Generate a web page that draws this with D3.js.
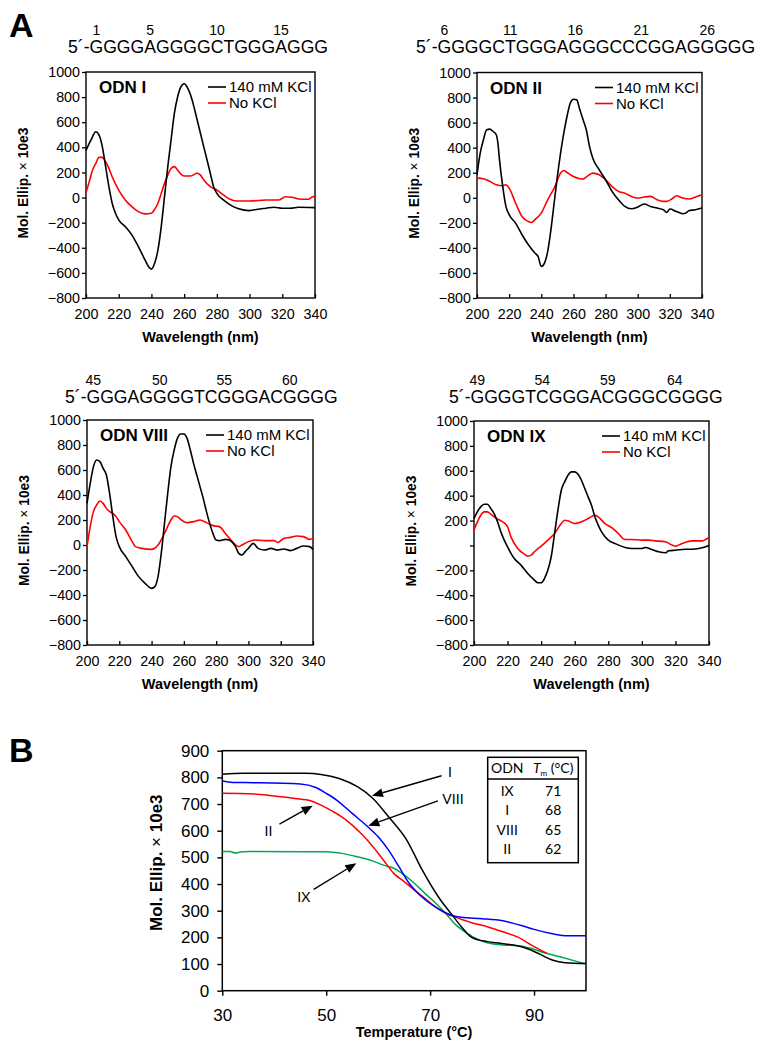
<!DOCTYPE html>
<html><head><meta charset="utf-8">
<script src="https://cdn.jsdelivr.net/npm/d3@7"></script>
<style>
body{margin:0;background:#fff}
svg text{font-family:Arial,"Liberation Sans",sans-serif;fill:#000}
</style></head>
<body><svg id="c" width="762" height="1050"></svg>
<script>
// ---------------- DATA ----------------
const cdXTicks = [200,220,240,260,280,300,320,340];
const cdYTicks = [-800,-600,-400,-200,0,200,400,600,800,1000];
const legendLabels = ["140 mM KCl","No KCl"];
const odnNames = ["ODN I","ODN II","ODN VIII","ODN IX"];
const seqs = ["GGGGAGGGGCTGGGAGGG","GGGGCTGGGAGGGCCCGGAGGGGG","GGGAGGGGTCGGGACGGGG","GGGGTCGGGACGGGCGGGG"];
const seqStarts = [1,6,45,49];
const seqNums1 = [1,5,10,15];
const seqNums2 = [6,11,16,21,26];
const seqNums3 = [45,50,55,60];
const seqNums4 = [49,54,59,64];

// ODN I
const wlK1 = [200,203,206,208,210,212,214,216,218,220,224,228,232,236,239,240,242,244,246,248,250,252,254,256,258,260,262,264,266,268,270,272,274,276,278,280,284,290,296,300,305,310,315,320,325,330,340];
const kcl1 = [375,457,524,497,404,246,87,-45,-125,-178,-231,-297,-390,-495,-562,-570,-522,-416,-231,7,246,457,669,801,881,907,876,815,722,616,510,404,299,193,87,34,-19,-72,-98,-104,-93,-85,-77,-85,-85,-77,-80];
const wlN1 = [200,202,204,206,208,210,212,214,216,220,224,228,232,236,240,242,244,246,248,250,252,254,256,258,260,264,268,270,272,276,280,284,288,292,300,310,318,320,322,326,330,336,338,340];
const nokcl1 = [39,127,219,272,320,320,285,232,166,60,-19,-72,-112,-130,-125,-93,-45,34,113,179,232,246,219,187,172,172,193,179,140,87,60,21,-14,-27,-27,-19,-19,-6,7,2,-11,-14,2,13];
// ODN II
const wlK2 = [200,202,204,206,208,210,212,213,214,216,218,220,224,228,232,236,238,240,242,244,246,248,250,252,254,256,258,260,262,264,266,268,270,272,276,280,284,288,292,296,300,304,308,312,316,318,320,324,328,330,332,336,340];
const kcl2 = [184,357,463,543,548,529,503,436,303,91,-69,-135,-202,-295,-375,-441,-468,-548,-521,-428,-255,-42,170,357,516,649,755,787,782,702,622,543,410,317,224,144,51,-16,-69,-88,-74,-50,-69,-82,-96,-117,-90,-109,-127,-122,-101,-96,-82];
const wlN2 = [200,204,208,212,216,218,220,224,228,232,234,236,240,244,248,252,254,256,260,264,266,268,272,276,280,284,288,292,296,300,304,308,312,316,318,322,324,328,332,336,340];
const nokcl2 = [157,152,131,104,96,104,77,-42,-149,-189,-197,-175,-122,-16,77,197,218,202,170,152,149,165,197,184,144,91,51,37,11,-2,6,11,-16,-29,-29,-2,16,-2,-10,6,24];
// ODN VIII
const wlK3 = [200,202,204,206,208,210,212,214,216,218,220,224,228,232,236,240,242,244,246,248,250,252,254,256,258,260,262,264,266,268,270,272,274,276,278,280,282,286,288,292,294,296,298,300,303,306,310,314,318,322,326,330,334,338,340];
const kcl3 = [333,493,627,680,667,613,560,413,227,67,-13,-93,-173,-253,-307,-347,-333,-253,-67,173,413,627,760,853,888,888,853,760,653,560,467,373,267,173,93,40,35,45,40,-13,-67,-80,-53,-27,13,-27,-40,-27,-40,-32,-45,-27,-8,-13,-35];
const wlN3 = [200,202,204,206,208,210,212,214,216,218,220,224,228,230,234,240,244,248,252,254,256,258,262,266,270,274,278,282,286,290,294,296,300,304,310,316,318,322,326,330,334,338,340];
const nokcl3 = [-13,147,267,320,352,333,293,267,253,227,187,120,27,-13,-27,-35,0,93,200,232,227,205,179,187,200,179,155,147,88,27,-13,0,27,40,35,35,21,53,61,72,67,45,53];
// ODN IX
const wlK4 = [200,202,204,206,208,210,212,214,216,218,220,222,224,228,232,236,238,240,242,244,246,248,250,252,254,256,258,260,262,264,266,268,270,272,274,276,280,284,290,294,300,302,306,310,314,316,320,326,330,334,338,340];
const kcl4 = [216,270,310,331,331,297,256,190,109,43,-11,-64,-105,-158,-225,-278,-300,-300,-265,-198,-91,96,283,444,511,564,591,591,572,524,457,390,323,230,163,109,43,16,-16,-24,-24,-16,-32,-51,-59,-43,-38,-30,-30,-24,-11,2];
const wlN4 = [200,202,204,206,208,210,212,216,218,220,222,226,230,232,234,236,240,244,248,252,254,256,260,264,268,272,274,278,282,286,290,294,300,304,308,314,318,320,324,330,336,338,340];
const nokcl4 = [123,190,243,270,270,251,230,198,182,150,69,-24,-70,-86,-78,-51,-6,43,96,176,203,198,176,190,216,243,230,176,144,96,48,48,43,43,37,29,3,-6,16,37,37,48,64];

// Panel B melting curves
const mXTicks = [30,50,70,90];
const mYTicks = [0,100,200,300,400,500,600,700,800,900];
const tI = [30,34,40,46,49,52.5,56,59,62,65.5,68.5,72,74,76,78,81,83.5,86,88.5,91,93.5,96,100];
const vI = [812,815,815,815,811,796,765,721,652,565,452,340,290,240,200,184,178,171,159,138,115,105,102];
const tVIII = [30,32,36,45,48,50,52,55,58,60,62,64,66,68,70,72,74,76,80,84,88,90,94,96,100];
const vVIII = [786,781,780,775,762,740,715,665,615,577,527,465,402,359,327,302,284,275,270,262,242,230,212,206,206];
const tII = [30,36,40,44,47,49,51,53,55,57,59,61,63,65,67,69,71,73,75,78,81,84,87,90,92.5];
const vII = [740,738,730,721,712,696,675,652,621,584,540,490,440,409,377,346,315,290,275,255,240,221,200,165,140];
const tIX = [30,31.5,32.5,33.5,35,50,53,56,59,61,63,65,67,69,71,73,75,77,79,81,84,87,89,92,95,98,100];
const vIX = [522,522,516,520,522,521,515,502,486,471,459,434,402,365,330,290,246,217,194,180,171,169,161,142,127,111,100];
const tableOdn = ["IX","I","VIII","II"];
const tableTm = [71,68,65,62];
const annLabels = ["I","VIII","II","IX"];
const annLabelT = [73.8,74.4,38.9,45.7];
const annLabelV = [820,717,599,352];
const annFromT = [72.2,71.5,41.0,47.6];
const annFromV = [806,712,625,380];
const annToT = [58.8,58.1,47.4,55.8];
const annToV = [731,619,694,478];

// ---------------- LAYOUT ----------------
const svg = d3.select("#c");
const panels = [
  {x0:86,x1:315,y0:72,y1:298,seqX:68,seqY:53,numY:35,hideZero:false},
  {x0:477,x1:702,y0:72.5,y1:298,seqX:416,seqY:53,numY:35,hideZero:false},
  {x0:87,x1:313,y0:420,y1:645,seqX:65,seqY:403,numY:385,hideZero:false},
  {x0:474,x1:709,y0:421,y1:645,seqX:449,seqY:403,numY:385,hideZero:true}
];
const cdData = [
  {wk:wlK1,k:kcl1,wn:wlN1,n:nokcl1,nums:seqNums1},
  {wk:wlK2,k:kcl2,wn:wlN2,n:nokcl2,nums:seqNums2},
  {wk:wlK3,k:kcl3,wn:wlN3,n:nokcl3,nums:seqNums3},
  {wk:wlK4,k:kcl4,wn:wlN4,n:nokcl4,nums:seqNums4}
];
const fmt = v => v < 0 ? "\u2212" + Math.abs(v) : String(v);

panels.forEach((L,i)=>{
  const D = cdData[i];
  const g = svg.append("g");
  const x = d3.scaleLinear().domain([200,340]).range([L.x0,L.x1]);
  const y = d3.scaleLinear().domain([-800,1000]).range([L.y1,L.y0]);
  const ya = g.append("g").attr("transform",`translate(${L.x0},0)`)
    .call(d3.axisLeft(y).tickValues(cdYTicks).tickSizeInner(4).tickSizeOuter(0).tickPadding(2)
      .tickFormat(v => (L.hideZero && v===0) ? "" : fmt(v)));
  const xa = g.append("g").attr("transform",`translate(0,${L.y1})`)
    .call(d3.axisBottom(x).tickValues(cdXTicks).tickSizeInner(-4).tickSizeOuter(0).tickPadding(11).tickFormat(fmt));
  [ya,xa].forEach(a=>{
    a.select(".domain").remove();
    a.selectAll("text").attr("font-size","14.3px").attr("font-family","Arial, 'Liberation Sans', sans-serif").attr("fill","#000");
    a.selectAll("line").attr("stroke","#000").attr("stroke-width",1.3);
  });
  g.append("rect").attr("x",L.x0).attr("y",L.y0).attr("width",L.x1-L.x0).attr("height",L.y1-L.y0)
    .attr("fill","none").attr("stroke","#000").attr("stroke-width",1.4);
  const line = d3.line().curve(d3.curveMonotoneX);
  g.append("path").attr("d", line(D.wn.map((w,j)=>[x(w),y(D.n[j])])))
    .attr("fill","none").attr("stroke","#ff0000").attr("stroke-width",1.6);
  g.append("path").attr("d", line(D.wk.map((w,j)=>[x(w),y(D.k[j])])))
    .attr("fill","none").attr("stroke","#000").attr("stroke-width",1.6);
  [["#000",legendLabels[0],15],["#ff0000",legendLabels[1],31]].forEach(([c,t,dy])=>{
    g.append("line").attr("x1",L.x1-107).attr("x2",L.x1-89).attr("y1",L.y0+dy).attr("y2",L.y0+dy)
      .attr("stroke",c).attr("stroke-width",1.6);
    g.append("text").attr("x",L.x1-86).attr("y",L.y0+dy+5).attr("font-size","15px").text(t);
  });
  g.append("text").attr("x",L.x0+13).attr("y",L.y0+21).attr("font-size","17px").attr("font-weight","bold").text(odnNames[i]);
  g.append("text").attr("x",(L.x0+L.x1)/2).attr("y",L.y1+44).attr("text-anchor","middle")
    .attr("font-size","14.5px").attr("font-weight","bold").text("Wavelength (nm)");
  const yt = g.append("text").attr("transform",`translate(${L.x0-58},${(L.y0+L.y1)/2-2}) rotate(-90)`)
    .attr("text-anchor","middle").attr("font-size","13.8px").attr("font-weight","bold");
  yt.append("tspan").text("Mol. Ellip. ");
  yt.append("tspan").attr("font-weight","normal").text("\u00d7");
  yt.append("tspan").text(" 10e3");
  const st = g.append("text").attr("x",L.seqX).attr("y",L.seqY).attr("font-size","17.6px").text("5\u00b4-" + seqs[i]);
  const node = st.node();
  D.nums.forEach(n=>{
    const idx = 3 + (n - seqStarts[i]);
    const a = node.getStartPositionOfChar(idx).x, b = node.getEndPositionOfChar(idx).x;
    g.append("text").attr("x",(a+b)/2).attr("y",L.numY).attr("text-anchor","middle")
      .attr("font-size","14px").text(n);
  });
});

svg.append("text").attr("x",9).attr("y",37).attr("font-size","34px").attr("font-weight","bold").text("A");
svg.append("text").attr("x",9).attr("y",762).attr("font-size","34px").attr("font-weight","bold").text("B");

// ---------------- PANEL B ----------------
(function(){
  const B = {x0:222.3,x1:586,y0:750.7,y1:990.7};
  const g = svg.append("g");
  const x = d3.scaleLinear().domain([30,100]).range([B.x0,B.x1]);
  const y = d3.scaleLinear().domain([0,900]).range([B.y1,B.y0]);
  const ya = g.append("g").attr("transform",`translate(${B.x0},0)`)
    .call(d3.axisLeft(y).tickValues(mYTicks).tickSizeInner(5).tickSizeOuter(0).tickPadding(8));
  const xa = g.append("g").attr("transform",`translate(0,${B.y1})`)
    .call(d3.axisBottom(x).tickValues(mXTicks).tickSizeInner(5).tickSizeOuter(0).tickPadding(13));
  [ya,xa].forEach(a=>{
    a.select(".domain").remove();
    a.selectAll("text").attr("font-size","17px").attr("font-family","Arial, 'Liberation Sans', sans-serif").attr("fill","#000");
    a.selectAll("line").attr("stroke","#000").attr("stroke-width",1.4);
  });
  g.append("rect").attr("x",B.x0).attr("y",B.y0).attr("width",B.x1-B.x0).attr("height",B.y1-B.y0)
    .attr("fill","none").attr("stroke","#000").attr("stroke-width",1.5);
  const line = d3.line().curve(d3.curveMonotoneX);
  [[tIX,vIX,"#00a84f"],[tII,vII,"#ff0000"],[tVIII,vVIII,"#0000ff"],[tI,vI,"#000"]].forEach(([t,v,c])=>{
    g.append("path").attr("d",line(t.map((tt,j)=>[x(tt),y(v[j])])))
      .attr("fill","none").attr("stroke",c).attr("stroke-width",1.5);
  });
  g.append("text").attr("x",414).attr("y",1037).attr("text-anchor","middle")
    .attr("font-size","14.5px").attr("font-weight","bold").text("Temperature (\u00b0C)");
  const yt = g.append("text").attr("transform",`translate(162,${(B.y0+B.y1)/2-8}) rotate(-90)`)
    .attr("text-anchor","middle").attr("font-size","17px").attr("font-weight","bold");
  yt.append("tspan").text("Mol. Ellip. ");
  yt.append("tspan").attr("font-weight","normal").text("\u00d7");
  yt.append("tspan").text(" 10e3");
  annLabels.forEach((lab,i)=>{
    const fx = x(annFromT[i]), fy = y(annFromV[i]), tx = x(annToT[i]), ty = y(annToV[i]);
    const ang = Math.atan2(ty-fy, tx-fx);
    const hl = 11, hw = 4.5;
    const bx = tx - hl*Math.cos(ang), by = ty - hl*Math.sin(ang);
    g.append("line").attr("x1",fx).attr("y1",fy).attr("x2",bx).attr("y2",by)
      .attr("stroke","#000").attr("stroke-width",1.4);
    const px = -Math.sin(ang), py = Math.cos(ang);
    g.append("path").attr("d",`M${tx},${ty}L${bx+px*hw},${by+py*hw}L${bx-px*hw},${by-py*hw}Z`).attr("fill","#000");
    g.append("text").attr("x",x(annLabelT[i])).attr("y",y(annLabelV[i])).attr("dy","0.35em")
      .attr("text-anchor","middle").attr("font-size","14px").style("font-family","Lato, 'Open Sans', sans-serif").text(lab);
  });
  const T = {x0:487.7,x1:578.3,y0:757.3,y1:862.7,hy:779};
  g.append("rect").attr("x",T.x0).attr("y",T.y0).attr("width",T.x1-T.x0).attr("height",T.y1-T.y0)
    .attr("fill","#fff").attr("stroke","#000").attr("stroke-width",1.5);
  g.append("line").attr("x1",T.x0).attr("x2",T.x1).attr("y1",T.hy).attr("y2",T.hy).attr("stroke","#000").attr("stroke-width",1.5);
  const tf = "Lato, 'Open Sans', sans-serif";
  g.append("text").attr("x",T.x0+19.5).attr("y",773).attr("text-anchor","middle").attr("font-size","14px").style("font-family",tf).text("ODN");
  const h = g.append("text").attr("x",T.x0+65.5).attr("y",773).attr("text-anchor","middle").attr("font-size","14px").style("font-family",tf);
  h.append("tspan").attr("font-style","italic").text("T");
  h.append("tspan").attr("font-size","8px").attr("dy","3").text("m");
  h.append("tspan").attr("dy","-3").text(" (\u00b0C)");
  tableOdn.forEach((o,i)=>{
    const by = 796 + i*19.3;
    g.append("text").attr("x",T.x0+19.5).attr("y",by).attr("text-anchor","middle").attr("font-size","14px").style("font-family",tf).text(o);
    g.append("text").attr("x",T.x0+65.5).attr("y",by).attr("text-anchor","middle").attr("font-size","14px").style("font-family",tf).text(tableTm[i]);
  });
})();
</script></body></html>
